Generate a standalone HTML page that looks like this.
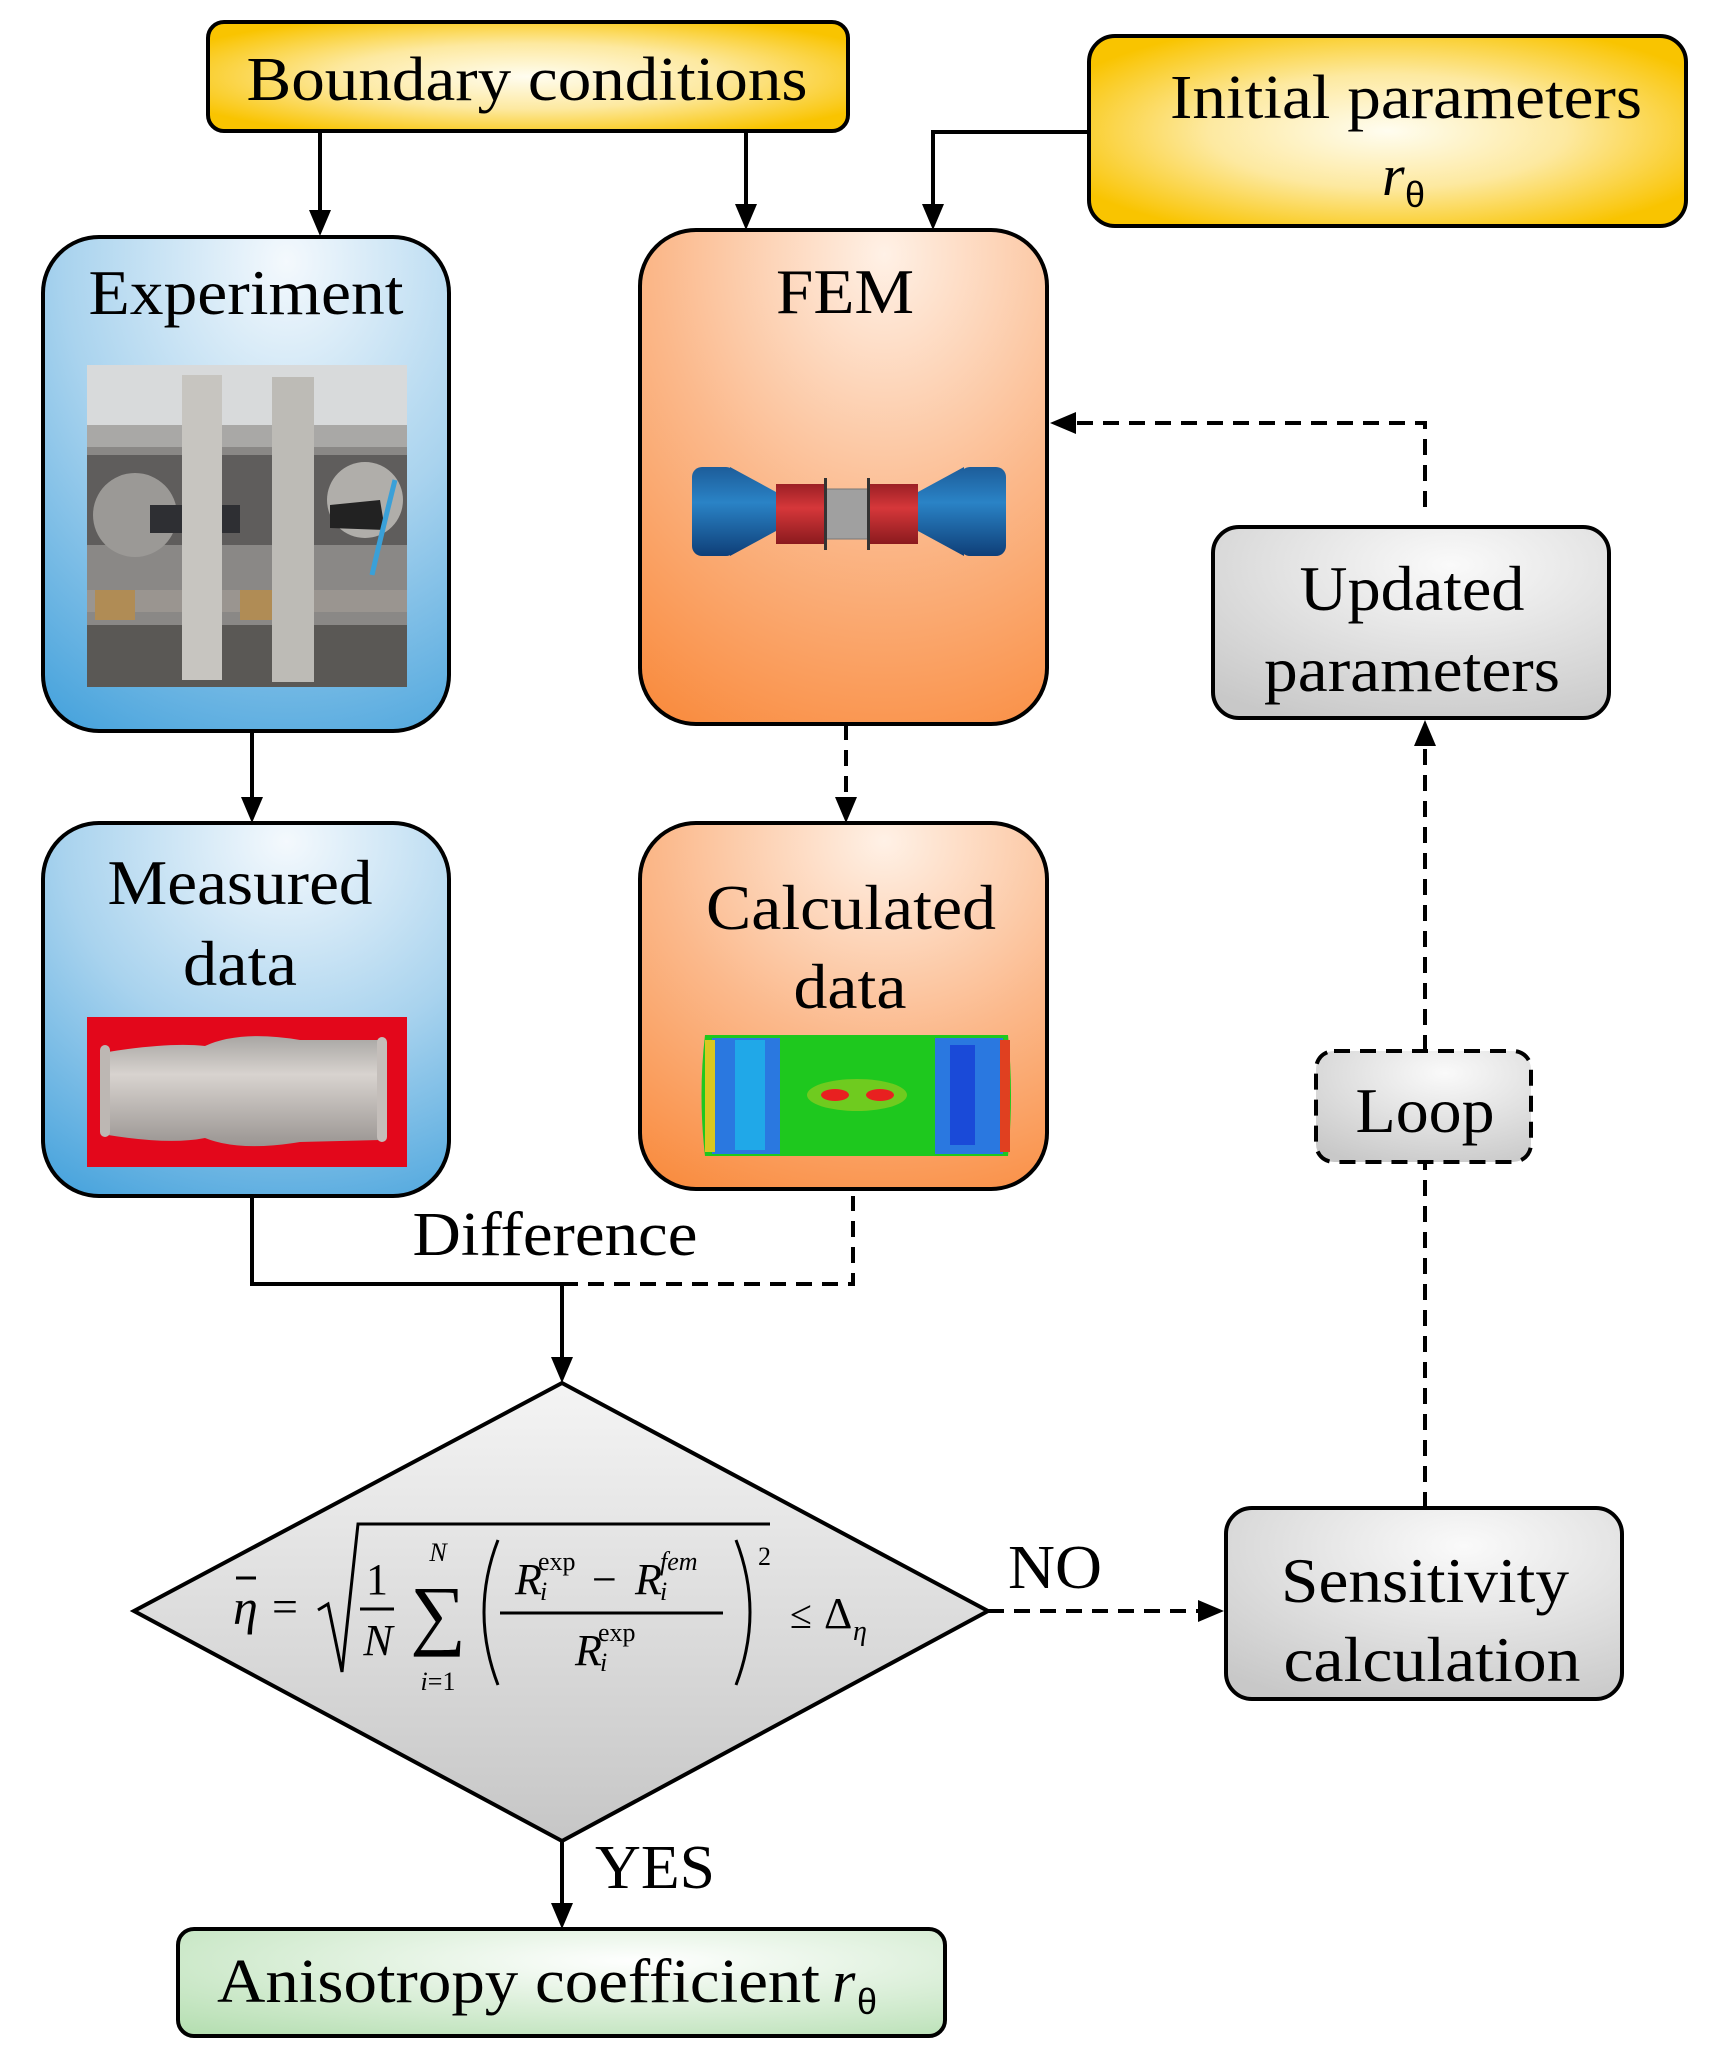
<!DOCTYPE html>
<html><head><meta charset="utf-8"><style>html,body{margin:0;padding:0;background:#fff}svg{display:block}</style></head><body>
<svg width="1731" height="2055" viewBox="0 0 1731 2055" xmlns="http://www.w3.org/2000/svg" font-family="'Liberation Serif', serif">
<defs>
<radialGradient id="yel" cx="0.5" cy="0.5" r="0.6"><stop offset="0" stop-color="#fffdf0"/><stop offset="0.5" stop-color="#fde9a0"/><stop offset="1" stop-color="#f9c400"/></radialGradient>
<radialGradient id="blu" cx="0.6" cy="0.05" r="1.1"><stop offset="0" stop-color="#f4f9fd"/><stop offset="0.5" stop-color="#a9d3ee"/><stop offset="1" stop-color="#45a2dc"/></radialGradient>
<radialGradient id="org" cx="0.6" cy="0.05" r="1.1"><stop offset="0" stop-color="#fff1e6"/><stop offset="0.5" stop-color="#fbb98c"/><stop offset="1" stop-color="#f98a3c"/></radialGradient>
<radialGradient id="gry" cx="0.6" cy="0.2" r="0.9"><stop offset="0" stop-color="#fafafa"/><stop offset="1" stop-color="#c8c8c8"/></radialGradient>
<radialGradient id="grn" cx="0.6" cy="0.3" r="0.9"><stop offset="0" stop-color="#ffffff"/><stop offset="1" stop-color="#b4deb0"/></radialGradient>
<linearGradient id="dia" x1="0" y1="0" x2="0" y2="1"><stop offset="0" stop-color="#f4f4f4"/><stop offset="1" stop-color="#c6c6c6"/></linearGradient>
<linearGradient id="cyl" x1="0" y1="0" x2="0" y2="1"><stop offset="0" stop-color="#1d5d9a"/><stop offset="0.4" stop-color="#2a83c6"/><stop offset="1" stop-color="#0f3f78"/></linearGradient>
<linearGradient id="red" x1="0" y1="0" x2="0" y2="1"><stop offset="0" stop-color="#9c1f25"/><stop offset="0.4" stop-color="#d6373a"/><stop offset="1" stop-color="#8a1a1e"/></linearGradient>
<linearGradient id="tube" x1="0" y1="0" x2="0" y2="1"><stop offset="0" stop-color="#a8a6a3"/><stop offset="0.35" stop-color="#d8d3cf"/><stop offset="1" stop-color="#9a9592"/></linearGradient>
</defs>
<g stroke="#000" stroke-width="4" fill="none">
<path d="M320,131 V222" />
<path d="M746,131 V216" />
<path d="M1089,132 H933 V216" />
<path d="M252,731 V810" />
<path d="M846,724 V810" stroke-dasharray="16,10"/>
<path d="M252,1196 V1284 H562"/>
<path d="M562,1284 H853 V1196" stroke-dasharray="16,10"/>
<path d="M562,1284 V1370"/>
<path d="M562,1841 V1915"/>
<path d="M988,1611 H1208" stroke-dasharray="16,10"/>
<path d="M1425,1508 V1162" stroke-dasharray="16,10"/>
<path d="M1425,1051 V735" stroke-dasharray="16,10"/>
<path d="M1425,507 V423 H1064" stroke-dasharray="16,10"/>
</g>
<g fill="#000">
<path d="M309,210 L331,210 L320,236 z"/>
<path d="M735,204 L757,204 L746,230 z"/>
<path d="M922,204 L944,204 L933,230 z"/>
<path d="M241,797 L263,797 L252,823 z"/>
<path d="M835,797 L857,797 L846,823 z"/>
<path d="M551,1357 L573,1357 L562,1383 z"/>
<path d="M551,1903 L573,1903 L562,1929 z"/>
<path d="M1198,1600 L1198,1622 L1224,1611 z"/>
<path d="M1414,746 L1436,746 L1425,720 z"/>
<path d="M1076,412 L1076,434 L1050,423 z"/>
</g>
<rect x="208" y="22" width="640" height="109" rx="16" fill="url(#yel)" stroke="#000" stroke-width="4"/>
<text x="527" y="100" font-size="62" text-anchor="middle" textLength="561" lengthAdjust="spacingAndGlyphs">Boundary conditions</text>
<rect x="1089" y="36" width="597" height="190" rx="26" fill="url(#yel)" stroke="#000" stroke-width="4"/>
<text x="1406" y="118" font-size="62" text-anchor="middle" textLength="472" lengthAdjust="spacingAndGlyphs">Initial parameters</text>
<text x="1382" y="195" font-size="58" font-style="italic">r</text><text x="1405" y="207" font-size="36" font-family="'Liberation Sans',sans-serif">θ</text>

<rect x="43" y="237" width="406" height="494" rx="56" fill="url(#blu)" stroke="#000" stroke-width="4"/>
<text x="246" y="314" font-size="64" text-anchor="middle" textLength="315" lengthAdjust="spacingAndGlyphs">Experiment</text>
<g>
<rect x="87" y="365" width="320" height="322" fill="#8a8886"/>
<rect x="87" y="365" width="320" height="70" fill="#d8dadb"/>
<rect x="87" y="425" width="320" height="22" fill="#a9a8a6"/>
<rect x="87" y="455" width="320" height="90" fill="#5f5d5c"/>
<circle cx="135" cy="515" r="42" fill="#9b9996"/>
<circle cx="365" cy="500" r="38" fill="#b0aeaa"/>
<rect x="150" y="505" width="90" height="28" fill="#2e2f33"/>
<path d="M330,505 L380,500 L385,530 L330,528 z" fill="#222"/>
<rect x="87" y="590" width="320" height="22" fill="#9a9590"/>
<rect x="95" y="590" width="40" height="30" fill="#b08c55"/>
<rect x="240" y="590" width="40" height="30" fill="#b08c55"/>
<rect x="87" y="625" width="320" height="62" fill="#5a5855"/>
<rect x="182" y="375" width="40" height="305" fill="#c7c5c0"/>
<rect x="272" y="377" width="42" height="305" fill="#bdbbb6"/>
<path d="M395,480 Q380,540 372,575" stroke="#3aa0d8" stroke-width="5" fill="none"/>
</g>
<rect x="640" y="230" width="407" height="494" rx="56" fill="url(#org)" stroke="#000" stroke-width="4"/>
<text x="845" y="313" font-size="64" text-anchor="middle" textLength="138" lengthAdjust="spacingAndGlyphs">FEM</text>
<g>
<rect x="692" y="467" width="44" height="89" rx="10" fill="url(#cyl)"/>
<path d="M730,467 L776,492 L776,531 L730,556 z" fill="url(#cyl)"/>
<rect x="776" y="484" width="50" height="60" fill="url(#red)"/>
<rect x="826" y="489" width="42" height="50" fill="#a0a0a0" stroke="#777" stroke-width="1"/>
<rect x="868" y="484" width="50" height="60" fill="url(#red)"/>
<path d="M918,492 L964,467 L964,556 L918,531 z" fill="url(#cyl)"/>
<rect x="960" y="467" width="46" height="89" rx="10" fill="url(#cyl)"/>
<rect x="824" y="478" width="3" height="72" fill="#333"/><rect x="867" y="478" width="3" height="72" fill="#333"/>
</g>
<rect x="43" y="823" width="406" height="373" rx="56" fill="url(#blu)" stroke="#000" stroke-width="4"/>
<text x="240" y="904" font-size="64" text-anchor="middle" textLength="265" lengthAdjust="spacingAndGlyphs">Measured</text>
<text x="240" y="985" font-size="64" text-anchor="middle" textLength="114" lengthAdjust="spacingAndGlyphs">data</text>
<rect x="87" y="1017" width="320" height="150" fill="#e3071b"/>
<path d="M108,1052 Q170,1042 205,1046 Q240,1030 300,1040 L380,1040 L380,1140 L300,1142 Q240,1152 205,1138 Q170,1145 108,1135 z" fill="url(#tube)"/>
<rect x="100" y="1045" width="10" height="92" rx="5" fill="#bdb7b3"/><rect x="377" y="1037" width="10" height="105" rx="5" fill="#c4beba"/>

<rect x="640" y="823" width="407" height="366" rx="56" fill="url(#org)" stroke="#000" stroke-width="4"/>
<text x="851" y="929" font-size="64" text-anchor="middle" textLength="290" lengthAdjust="spacingAndGlyphs">Calculated</text>
<text x="850" y="1008" font-size="64" text-anchor="middle" textLength="113" lengthAdjust="spacingAndGlyphs">data</text>
<g>
<path d="M705,1035 L1008,1035 Q1014,1095 1008,1156 L705,1156 Q698,1095 705,1035 z" fill="#1ec81e"/>
<rect x="712" y="1038" width="68" height="116" fill="#2a78e0"/>
<rect x="735" y="1040" width="30" height="110" fill="#20a8e8"/>
<rect x="935" y="1038" width="68" height="116" fill="#2a78e0"/>
<rect x="950" y="1045" width="25" height="100" fill="#1a4ad8"/>
<rect x="705" y="1040" width="10" height="112" fill="#d8c820"/>
<rect x="1000" y="1040" width="10" height="112" fill="#e04020"/>
<ellipse cx="857" cy="1095" rx="50" ry="16" fill="#e8d020" opacity="0.4"/>
<ellipse cx="835" cy="1095" rx="14" ry="6" fill="#e82020"/><ellipse cx="880" cy="1095" rx="14" ry="6" fill="#e82020"/>
</g>

<rect x="1213" y="527" width="396" height="191" rx="26" fill="url(#gry)" stroke="#000" stroke-width="4"/>
<text x="1412" y="610" font-size="64" text-anchor="middle" textLength="225" lengthAdjust="spacingAndGlyphs">Updated</text>
<text x="1412" y="691" font-size="64" text-anchor="middle" textLength="296" lengthAdjust="spacingAndGlyphs">parameters</text>

<rect x="1316" y="1051" width="215" height="111" rx="18" fill="url(#gry)" stroke="#000" stroke-width="4" stroke-dasharray="16,10"/>
<text x="1425" y="1132" font-size="64" text-anchor="middle" textLength="139" lengthAdjust="spacingAndGlyphs">Loop</text>

<rect x="1226" y="1508" width="396" height="191" rx="26" fill="url(#gry)" stroke="#000" stroke-width="4"/>
<text x="1425" y="1602" font-size="64" text-anchor="middle" textLength="288" lengthAdjust="spacingAndGlyphs">Sensitivity</text>
<text x="1432" y="1681" font-size="64" text-anchor="middle" textLength="297" lengthAdjust="spacingAndGlyphs">calculation</text>

<text x="555" y="1255" font-size="62" text-anchor="middle" textLength="285" lengthAdjust="spacingAndGlyphs">Difference</text>

<path d="M562,1383 L988,1611 L562,1841 L134,1611 z" fill="url(#dia)" stroke="#000" stroke-width="4"/>
<g>
<text x="233" y="1624" font-size="50" font-style="italic">η</text>
<line x1="236" y1="1578" x2="256" y2="1578" stroke="#000" stroke-width="3"/>
<text x="272" y="1622" font-size="46">=</text>
<path d="M318,1610 L328,1604 L342,1672 L358,1524 L770,1524" stroke="#000" stroke-width="3" fill="none"/>
<text x="377" y="1594" font-size="44" text-anchor="middle">1</text>
<line x1="360" y1="1609" x2="394" y2="1609" stroke="#000" stroke-width="3"/>
<text x="378" y="1655" font-size="44" font-style="italic" text-anchor="middle">N</text>
<text x="438" y="1640" font-size="78" text-anchor="middle">∑</text>
<text x="438" y="1561" font-size="26" font-style="italic" text-anchor="middle">N</text>
<text x="438" y="1690" font-size="26" text-anchor="middle"><tspan font-style="italic">i</tspan>=1</text>
<path d="M498,1540 Q470,1612 498,1685" stroke="#000" stroke-width="3" fill="none"/>
<path d="M736,1540 Q764,1612 736,1685" stroke="#000" stroke-width="3" fill="none"/>
<text x="515" y="1594" font-size="44" font-style="italic">R</text>
<text x="538" y="1570" font-size="26">exp</text>
<text x="540" y="1600" font-size="26" font-style="italic">i</text>
<text x="592" y="1594" font-size="44">−</text>
<text x="635" y="1594" font-size="44" font-style="italic">R</text>
<text x="660" y="1570" font-size="26" font-style="italic">fem</text>
<text x="660" y="1600" font-size="26" font-style="italic">i</text>
<line x1="500" y1="1613" x2="723" y2="1613" stroke="#000" stroke-width="3"/>
<text x="575" y="1665" font-size="44" font-style="italic">R</text>
<text x="598" y="1641" font-size="26">exp</text>
<text x="600" y="1671" font-size="26" font-style="italic">i</text>
<text x="758" y="1565" font-size="26">2</text>
<text x="790" y="1628" font-size="40">≤</text>
<text x="824" y="1628" font-size="44">Δ</text>
<text x="853" y="1640" font-size="28" font-style="italic">η</text>
</g>

<text x="1055" y="1588" font-size="62" text-anchor="middle" textLength="94" lengthAdjust="spacingAndGlyphs">NO</text>
<text x="655" y="1888" font-size="62" text-anchor="middle" textLength="120" lengthAdjust="spacingAndGlyphs">YES</text>

<rect x="178" y="1929" width="767" height="107" rx="16" fill="url(#grn)" stroke="#000" stroke-width="4"/>
<text x="217" y="2002" font-size="62" textLength="603" lengthAdjust="spacingAndGlyphs">Anisotropy coefficient</text>
<text x="832" y="2002" font-size="60" font-style="italic">r</text><text x="857" y="2014" font-size="36" font-family="'Liberation Sans',sans-serif">θ</text>
</svg>
</body></html>
